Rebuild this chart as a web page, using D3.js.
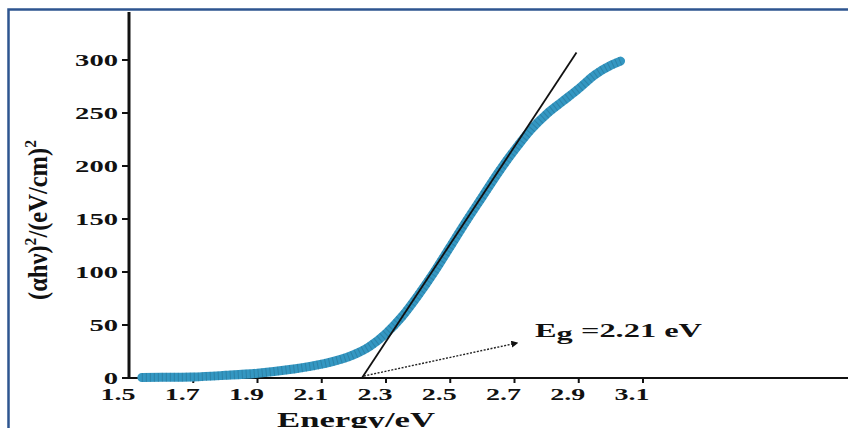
<!DOCTYPE html>
<html>
<head>
<meta charset="utf-8">
<script src="https://cdn.jsdelivr.net/npm/d3@7"></script>
<style>
  body { margin: 0; background: #fff; }
  svg { display: block; }
  text { font-family: "Liberation Serif", "DejaVu Serif", serif; font-weight: bold; fill: #111; }
</style>
</head>
<body>
<div id="canvas"></div>
<script>
// absorption edge data
var energy = [1.54, 1.6, 1.7, 1.8, 1.9, 2.0, 2.1, 2.2, 2.25, 2.3, 2.35, 2.4, 2.45, 2.5, 2.55, 2.6, 2.65, 2.7, 2.75, 2.8, 2.85, 2.9, 2.95, 3.0, 3.03];
var absorb = [0.5, 0.6, 1, 2.5, 4.5, 8, 13, 22, 30, 42, 58, 78, 100, 124, 148, 171, 194, 215, 234, 249, 261, 273, 286, 295, 299];

// tangent line used for the band gap
var tangentE = [2.225, 2.893];
var tangentV = [0, 307];

var xTicks = [1.5, 1.7, 1.9, 2.1, 2.3, 2.5, 2.7, 2.9, 3.1];
var yTicks = [0, 50, 100, 150, 200, 250, 300];

var width = 848;
var height = 428;

var svg = d3.select("#canvas")
    .append("svg")
    .attr("width", width)
    .attr("height", height);

// scales, fitted to the axes in the picture
var x = d3.scaleLinear().domain([1.5, 3.1]).range([129, 643]);
var y = d3.scaleLinear().domain([0, 300]).range([378, 60]);

// blue frame (top and left edges only)
svg.append("path")
    .attr("d", "M8.5,428 L8.5,9.5 L848,9.5")
    .attr("fill", "none")
    .attr("stroke", "#2e5590")
    .attr("stroke-width", 2.5);

// x axis
var xAxis = svg.append("g").attr("transform", "translate(0,378)");
xAxis.append("line")
    .attr("x1", 129).attr("x2", 848)
    .attr("stroke", "#111").attr("stroke-width", 2);
xAxis.selectAll(".xt")
    .data(xTicks.slice(1))
    .enter()
    .append("line")
    .attr("x1", function(d) { return x(d); })
    .attr("x2", function(d) { return x(d); })
    .attr("y1", 0).attr("y2", 5)
    .attr("stroke", "#111").attr("stroke-width", 2);
xAxis.selectAll("text")
    .data(xTicks)
    .enter()
    .append("text")
    .attr("x", function(d) { return x(d) - 11; })
    .attr("y", 22)
    .attr("text-anchor", "middle")
    .attr("font-size", 16)
    .attr("textLength", 35)
    .attr("lengthAdjust", "spacingAndGlyphs")
    .text(function(d) { return d.toFixed(1); });

// y axis
var yAxis = svg.append("g");
yAxis.append("line")
    .attr("x1", 129).attr("x2", 129)
    .attr("y1", 12).attr("y2", 379)
    .attr("stroke", "#111").attr("stroke-width", 3);
yAxis.selectAll(".yt")
    .data(yTicks)
    .enter()
    .append("line")
    .attr("x1", 122).attr("x2", 129)
    .attr("y1", function(d) { return y(d); })
    .attr("y2", function(d) { return y(d); })
    .attr("stroke", "#111").attr("stroke-width", 2);
yAxis.selectAll("text")
    .data(yTicks)
    .enter()
    .append("text")
    .attr("x", 118)
    .attr("y", function(d) { return y(d) + 5.5; })
    .attr("text-anchor", "end")
    .attr("font-size", 16)
    .attr("textLength", function(d) { return String(d).length * 14.3; })
    .attr("lengthAdjust", "spacingAndGlyphs")
    .text(function(d) { return d; });

// data band
var pts = energy.map(function(e, i) { return [e, absorb[i]]; });
var line = d3.line()
    .x(function(d) { return x(d[0]); })
    .y(function(d) { return y(d[1]); })
    .curve(d3.curveMonotoneX);

svg.append("path")
    .attr("d", line(pts))
    .attr("fill", "none")
    .attr("stroke", "#3497c2")
    .attr("stroke-width", 9)
    .attr("stroke-linecap", "round");
// speckled edge of the markers
svg.append("path")
    .attr("d", line(pts))
    .attr("fill", "none")
    .attr("stroke", "#1f5d78")
    .attr("stroke-width", 9)
    .attr("stroke-dasharray", "1 3")
    .attr("opacity", 0.35);

// tangent line
svg.append("line")
    .attr("x1", x(tangentE[0])).attr("y1", y(tangentV[0]))
    .attr("x2", x(tangentE[1])).attr("y2", y(tangentV[1]))
    .attr("stroke", "#111")
    .attr("stroke-width", 1.8);

// dotted arrow to the label
svg.append("defs").append("marker")
    .attr("id", "head")
    .attr("viewBox", "0 0 10 10")
    .attr("refX", 8).attr("refY", 5)
    .attr("markerWidth", 5).attr("markerHeight", 5)
    .attr("orient", "auto")
    .append("path")
    .attr("d", "M0,0 L10,5 L0,10 z")
    .attr("fill", "#111");

svg.append("line")
    .attr("x1", x(tangentE[0]) + 2).attr("y1", 376)
    .attr("x2", 517).attr("y2", 343)
    .attr("stroke", "#222")
    .attr("stroke-width", 1.4)
    .attr("stroke-dasharray", "2 1.5")
    .attr("marker-end", "url(#head)");

var eg = svg.append("text")
    .attr("x", 535)
    .attr("y", 337)
    .attr("font-size", 19)
    .attr("textLength", 167)
    .attr("lengthAdjust", "spacingAndGlyphs");
eg.append("tspan").text("E");
eg.append("tspan").attr("dy", 3).text("g");
eg.append("tspan").attr("dy", -3).text(" =2.21 eV");

// axis titles
svg.append("text")
    .attr("x", 277)
    .attr("y", 427)
    .attr("font-size", 21)
    .attr("textLength", 158)
    .attr("lengthAdjust", "spacingAndGlyphs")
    .text("Energy/eV");

var ylab = svg.append("text")
    .attr("transform", "translate(47,300) scale(1.25,1) rotate(-90)")
    .attr("x", 0).attr("y", 0)
    .attr("font-size", 22)
    .attr("textLength", 160)
    .attr("lengthAdjust", "spacingAndGlyphs");
ylab.append("tspan").text("(αhν)");
ylab.append("tspan").attr("font-size", 14).attr("dy", -9).text("2");
ylab.append("tspan").attr("dy", 9).text("/(eV/cm)");
ylab.append("tspan").attr("font-size", 14).attr("dy", -9).text("2");
</script>
</body>
</html>
